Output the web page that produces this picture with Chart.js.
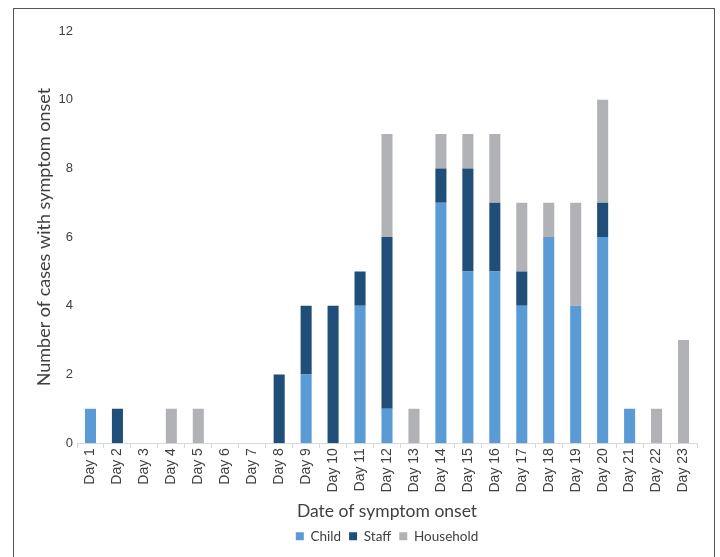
<!DOCTYPE html>
<html>
<head>
<meta charset="utf-8">
<script src="https://cdn.jsdelivr.net/npm/chart.js@4.4.0/dist/chart.umd.min.js"></script>
<style>
  html, body { margin: 0; padding: 0; background: #fff; }
  #wrap { position: relative; width: 720px; height: 557px; overflow: hidden; }
  #frame { position: absolute; left: 13px; top: 8px; width: 702px; height: 580px; border: 1.5px solid #555; box-sizing: border-box; }
  #c { position: absolute; left: 0; top: 0; }
</style>
</head>
<body>
<div id="wrap">
  <div id="frame"></div>
  <canvas id="c" width="720" height="557"></canvas>
</div>
<script>
const days = ['Day 1','Day 2','Day 3','Day 4','Day 5','Day 6','Day 7','Day 8','Day 9','Day 10','Day 11','Day 12',
  'Day 13','Day 14','Day 15','Day 16','Day 17','Day 18','Day 19','Day 20','Day 21','Day 22','Day 23'];
const child     = [1,0,0,0,0,0,0,0,2,0,4,1,0,7,5,5,4,6,4,6,1,0,0];
const staff     = [0,1,0,0,0,0,0,2,2,4,1,5,0,1,3,2,1,0,0,1,0,0,0];
const household = [0,0,0,1,1,0,0,0,0,0,0,3,1,1,1,2,2,1,3,3,0,1,3];
const yTicks = [0, 2, 4, 6, 8, 10, 12];

const ctx = document.getElementById('c').getContext('2d');
const sans = 'Lato, "Noto Sans", sans-serif';
const arial = '"Liberation Sans", Arial, sans-serif';

new Chart(ctx, {
  type: 'bar',
  data: {
    labels: days,
    datasets: [
      { label: 'Child', data: child, backgroundColor: '#5b9bd5' },
      { label: 'Staff', data: staff, backgroundColor: '#1f4e79' },
      { label: 'Household', data: household, backgroundColor: '#b1b2b6' }
    ]
  },
  options: {
    responsive: false,
    animation: false,
    layout: { padding: { left: 33, right: 23, top: 31, bottom: 4 } },
    datasets: { bar: { categoryPercentage: 0.82, barPercentage: 0.5 } },
    plugins: {
      legend: {
        position: 'bottom',
        fullSize: false,
        labels: { boxWidth: 8, boxHeight: 8, padding: 8, color: '#404040', font: { family: sans, size: 13.5 } }
      },
      tooltip: { enabled: false }
    },
    scales: {
      x: {
        stacked: true,
        grid: { drawOnChartArea: false, drawTicks: true, tickLength: 5, color: '#d9d9d9' },
        border: { color: '#d9d9d9' },
        ticks: { maxRotation: 90, minRotation: 90, color: '#404040', font: { family: arial, size: 14 }, padding: 0 },
        title: { display: true, text: 'Date of symptom onset', color: '#404040', font: { family: sans, size: 17.5 }, padding: { top: 8, bottom: 0 } }
      },
      y: {
        stacked: true,
        min: 0, max: 12,
        afterBuildTicks: axis => { axis.ticks = yTicks.map(v => ({ value: v })); },
        afterFit: axis => { axis.width = 44; },
        grid: { display: false, drawTicks: false },
        border: { display: false },
        ticks: { color: '#404040', font: { family: arial, size: 13 }, padding: 4 },
        title: { display: true, text: 'Number of cases with symptom onset', color: '#404040', font: { family: sans, size: 18 }, padding: { top: 0, bottom: 4 } }
      }
    }
  }
});
</script>
</body>
</html>
